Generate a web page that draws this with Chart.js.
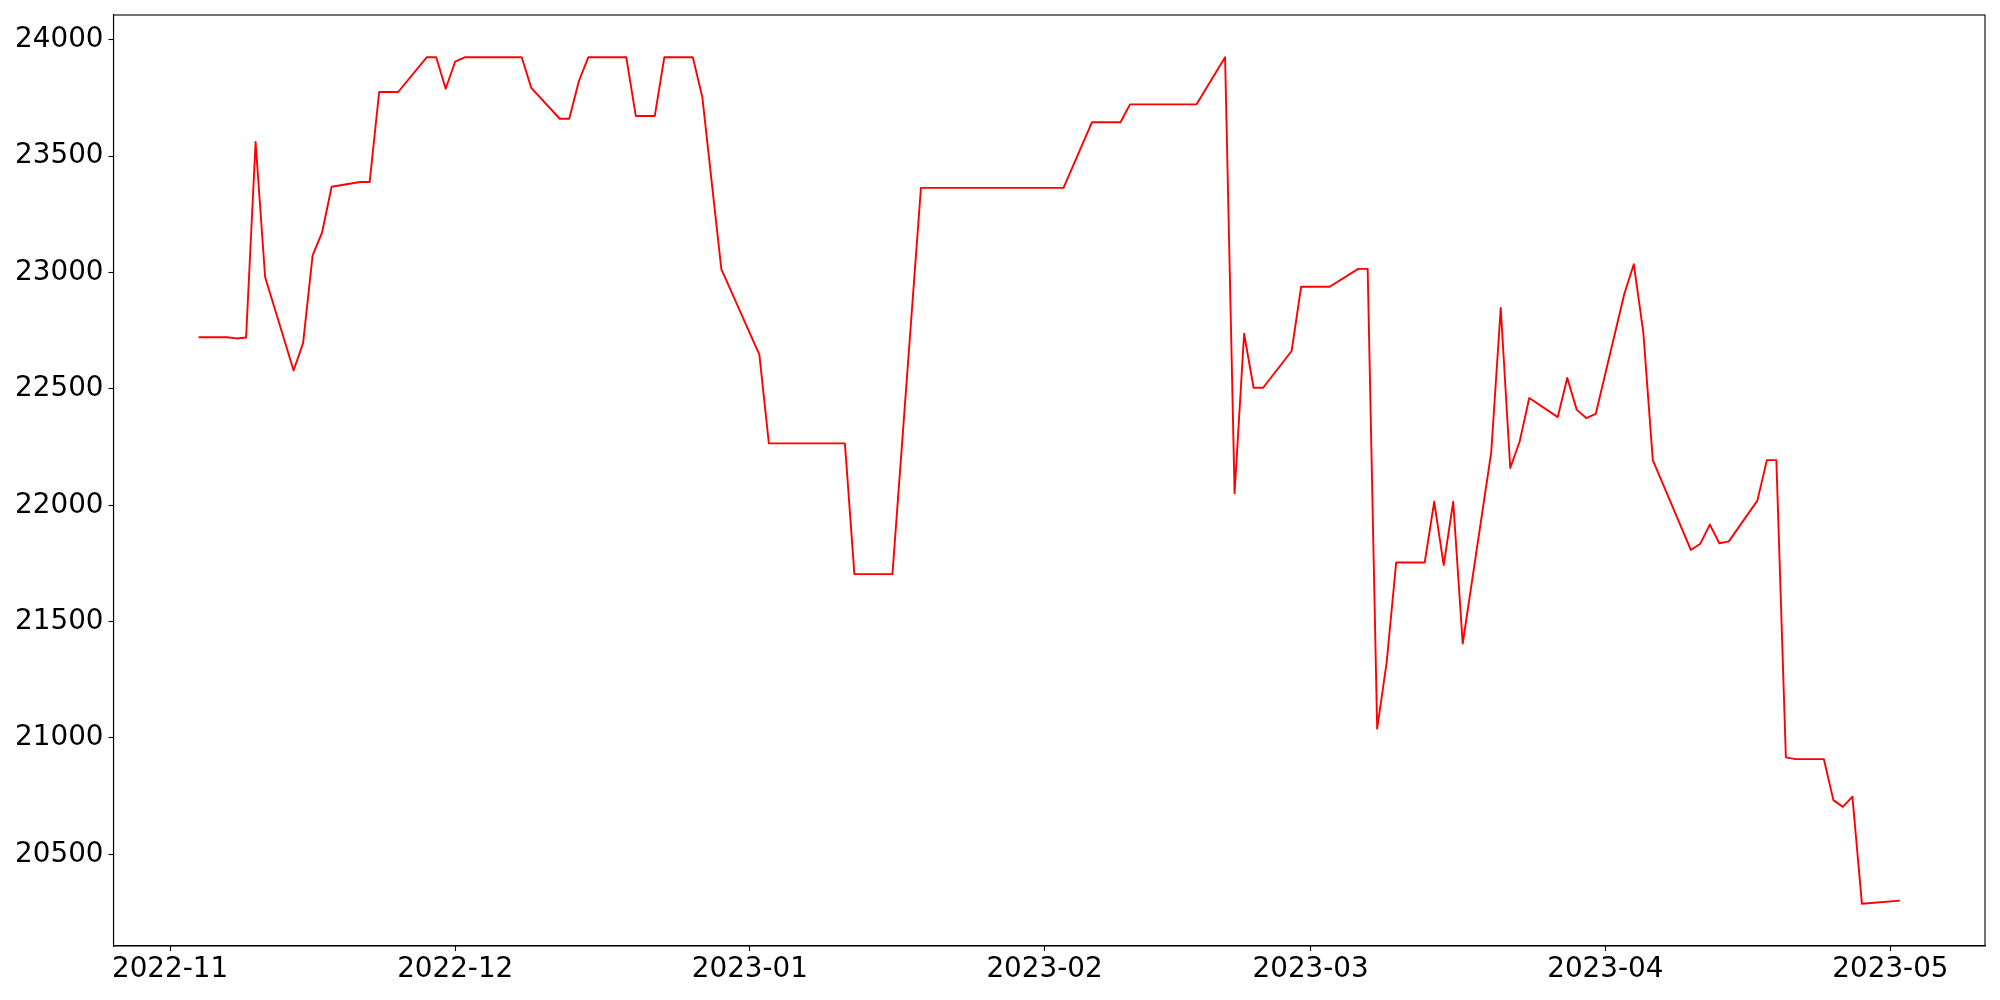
<!DOCTYPE html>
<html>
<head>
<meta charset="utf-8">
<script src="https://cdn.jsdelivr.net/npm/chart.js@4.4.0/dist/chart.umd.min.js"></script>
<style>
  html, body { margin: 0; padding: 0; background: #fff; }
  #wrap { width: 2000px; height: 1000px; }
</style>
</head>
<body>
<div id="wrap"><canvas id="c" width="2000" height="1000"></canvas></div>
<script>
const dates = [
  '2022-11-04','2022-11-07','2022-11-08','2022-11-09','2022-11-10','2022-11-11',
  '2022-11-14','2022-11-15','2022-11-16','2022-11-17','2022-11-18',
  '2022-11-21','2022-11-22','2022-11-23','2022-11-25',
  '2022-11-28','2022-11-29','2022-11-30','2022-12-01','2022-12-02',
  '2022-12-08','2022-12-09','2022-12-12','2022-12-13','2022-12-14','2022-12-15',
  '2022-12-19','2022-12-20','2022-12-22','2022-12-23',
  '2022-12-26','2022-12-27','2022-12-29',
  '2023-01-02','2023-01-03','2023-01-11','2023-01-12','2023-01-16','2023-01-19',
  '2023-02-03','2023-02-06','2023-02-09','2023-02-10','2023-02-17',
  '2023-02-20','2023-02-21','2023-02-22','2023-02-23','2023-02-24',
  '2023-02-27','2023-02-28','2023-03-03',
  '2023-03-06','2023-03-07','2023-03-08','2023-03-09','2023-03-10',
  '2023-03-13','2023-03-14','2023-03-15','2023-03-16','2023-03-17',
  '2023-03-20','2023-03-21','2023-03-22','2023-03-23','2023-03-24',
  '2023-03-27','2023-03-28','2023-03-29','2023-03-30','2023-03-31',
  '2023-04-03','2023-04-04','2023-04-05','2023-04-06',
  '2023-04-10','2023-04-11','2023-04-12','2023-04-13','2023-04-14',
  '2023-04-17','2023-04-18','2023-04-19','2023-04-20','2023-04-21',
  '2023-04-24','2023-04-25','2023-04-26','2023-04-27','2023-04-28',
  '2023-05-02'
];
const values = [
  22722,22722,22717,22721,23561,22981,
  22579,22698,23074,23173,23369,
  23389,23389,23776,23776,
  23925,23925,23790,23907,23925,
  23925,23794,23661,23661,23821,23925,
  23925,23673,23673,23925,
  23925,23754,23015,
  22647,22266,22266,21704,21704,23364,
  23364,23646,23646,23723,23723,
  23925,22052,22737,22505,22505,
  22663,22939,22939,
  23016,23016,21040,21325,21754,
  21754,22015,21743,22015,21406,
  22227,22848,22160,22275,22461,
  22379,22547,22410,22375,22393,
  22908,23036,22743,22194,
  21808,21835,21917,21837,21845,
  22020,22194,22194,20917,20909,
  20909,20733,20704,20748,20288,
  20301
];
const xTickLabels = ['2022-11','2022-12','2023-01','2023-02','2023-03','2023-04','2023-05'];
const yTickValues = [20500,21000,21500,22000,22500,23000,23500,24000];

const toDay = s => Date.parse(s) / 86400000;
const points = dates.map((d, i) => ({ x: toDay(d), y: values[i] }));

const xs = points.map(p => p.x);
const xMinD = Math.min(...xs), xMaxD = Math.max(...xs);
const xPad = (xMaxD - xMinD) * 0.05;
const yMinD = Math.min(...values), yMaxD = Math.max(...values);
const yPad = (yMaxD - yMinD) * 0.05;

const FONT = { family: 'DejaVu Sans', size: 27.8 };

const framePlugin = {
  id: 'frame',
  afterDraw(chart) {
    const a = chart.chartArea, ctx = chart.ctx;
    ctx.save();
    ctx.strokeStyle = '#000';
    ctx.lineWidth = 1.1;
    ctx.strokeRect(a.left, a.top, a.right - a.left, a.bottom - a.top);
    ctx.restore();
  }
};

new Chart(document.getElementById('c'), {
  type: 'line',
  data: {
    datasets: [{
      data: points,
      borderColor: '#ff0000',
      borderWidth: 1.9,
      pointRadius: 0,
      tension: 0,
      fill: false,
      borderJoinStyle: 'round'
    }]
  },
  options: {
    responsive: false,
    animation: false,
    devicePixelRatio: 1,
    layout: { padding: { left: 0, right: 15, top: 15, bottom: 0 } },
    plugins: { legend: { display: false }, tooltip: { enabled: false } },
    scales: {
      x: {
        type: 'linear',
        min: xMinD - xPad,
        max: xMaxD + xPad,
        afterBuildTicks: s => { s.ticks = xTickLabels.map(l => ({ value: toDay(l + '-01') })); },
        afterFit: s => { s.height = 54; s.paddingLeft = 0; s.paddingRight = 0; },
        ticks: {
          autoSkip: false, maxRotation: 0, minRotation: 0,
          color: '#000', font: FONT, padding: 2,
          callback: (v, i) => xTickLabels[i]
        },
        grid: { drawOnChartArea: false, drawTicks: true, tickLength: 5, tickColor: '#000', tickWidth: 1.1 },
        border: { display: true, color: '#000', width: 1.1 }
      },
      y: {
        type: 'linear',
        min: yMinD - yPad,
        max: yMaxD + yPad,
        afterBuildTicks: s => { s.ticks = yTickValues.map(v => ({ value: v })); },
        afterFit: s => { s.width = 113.5; s.paddingTop = 0; s.paddingBottom = 0; },
        ticks: {
          color: '#000', font: FONT, padding: 5,
          callback: v => String(v)
        },
        grid: { drawOnChartArea: false, drawTicks: true, tickLength: 5, tickColor: '#000', tickWidth: 1.1 },
        border: { display: true, color: '#000', width: 1.1 }
      }
    }
  },
  plugins: [framePlugin]
});
</script>
</body>
</html>
